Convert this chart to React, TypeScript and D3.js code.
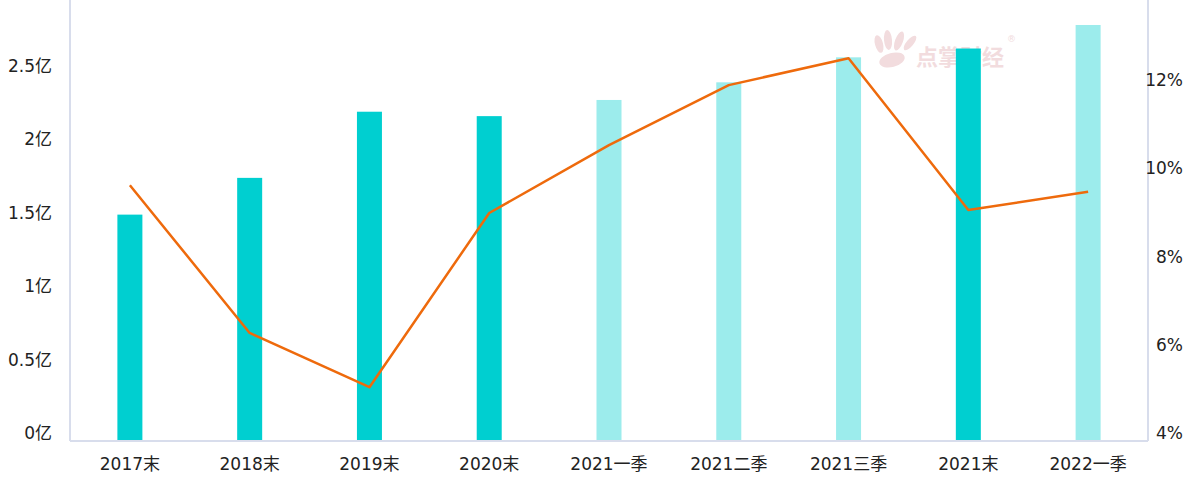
import React from "react";
import * as d3 from "d3";

const categories = ["2017末", "2018末", "2019末", "2020末", "2021一季", "2021二季", "2021三季", "2021末", "2022一季"];
const amounts = [1.54, 1.79, 2.24, 2.21, 2.32, 2.44, 2.61, 2.67, 2.83];
const isYearEnd = [true, true, true, true, false, false, false, true, false];
const ratios = [9.8, 6.45, 5.22, 9.17, 10.71, 12.07, 12.68, 9.24, 9.65];
const leftTicks = [0, 0.5, 1, 1.5, 2, 2.5];
const rightTicks = [4, 6, 8, 10, 12];

const W = 1192;
const H = 484;
const left = 70;
const right = 1148;
const top = 0;
const bottom = 441;

export default function App() {
  const x = d3.scaleBand<string>().domain(categories).range([left, right]);
  const yL = d3.scaleLinear().domain([0, 3]).range([bottom, top]);
  const yR = d3.scaleLinear().domain([4, 14]).range([bottom, top]);
  const barW = 25;
  const line = d3
    .line<number>()
    .x((_, i) => (x(categories[i]) as number) + x.bandwidth() / 2)
    .y((d) => yR(d));
  const font = "'DejaVu Sans', 'Noto Sans CJK SC', sans-serif";
  return (
    <div style={{ position: "fixed", left: 0, top: 0 }}>
      <svg width={W} height={H} style={{ display: "block", background: "#fff" }} fontFamily={font}>
        {/* watermark */}
        <g fill="#F2DCDE">
          <ellipse cx={879} cy={44} rx={4} ry={9} transform="rotate(-15 879 44)" />
          <ellipse cx={888} cy={40} rx={4} ry={10} transform="rotate(-5 888 40)" />
          <ellipse cx={899} cy={41} rx={4} ry={10} transform="rotate(20 899 41)" />
          <ellipse cx={910} cy={43} rx={3.5} ry={9} transform="rotate(40 910 43)" />
          <ellipse cx={892} cy={60} rx={13} ry={7} transform="rotate(-15 892 60)" />
          <text x={916} y={65} fontSize={22} fontWeight="bold" fontFamily="'Noto Sans CJK SC', sans-serif">点掌财经</text>
          <text x={1007} y={42} fontSize={9}>®</text>
        </g>
        {categories.map((c, i) => (
          <rect
            key={c}
            x={(x(c) as number) + x.bandwidth() / 2 - barW / 2}
            y={yL(amounts[i])}
            width={barW}
            height={bottom - yL(amounts[i])}
            fill={isYearEnd[i] ? "#00CFD0" : "#9CECEC"}
          />
        ))}
        <line x1={left} x2={left} y1={top} y2={bottom} stroke="#D8DDEC" strokeWidth={2} />
        <line x1={right} x2={right} y1={top} y2={bottom} stroke="#D8DDEC" strokeWidth={2} />
        <line x1={left} x2={right} y1={bottom} y2={bottom} stroke="#D8DDEC" strokeWidth={2} />
        <path d={line(ratios) as string} fill="none" stroke="#EE6A0C" strokeWidth={2.5} strokeLinejoin="round" />
        {leftTicks.map((t) => (
          <text key={t} x={52} y={yL(t) - 2} textAnchor="end" fontSize={17} fill="#222">
            {t}亿
          </text>
        ))}
        {rightTicks.map((t) => (
          <text key={t} x={1183} y={yR(t) - 2} textAnchor="end" fontSize={17} fill="#222">
            {t}%
          </text>
        ))}
        {categories.map((c) => (
          <text
            key={c}
            x={(x(c) as number) + x.bandwidth() / 2}
            y={470}
            textAnchor="middle"
            fontSize={17}
            fill="#222"
          >
            {c}
          </text>
        ))}
      </svg>
    </div>
  );
}
